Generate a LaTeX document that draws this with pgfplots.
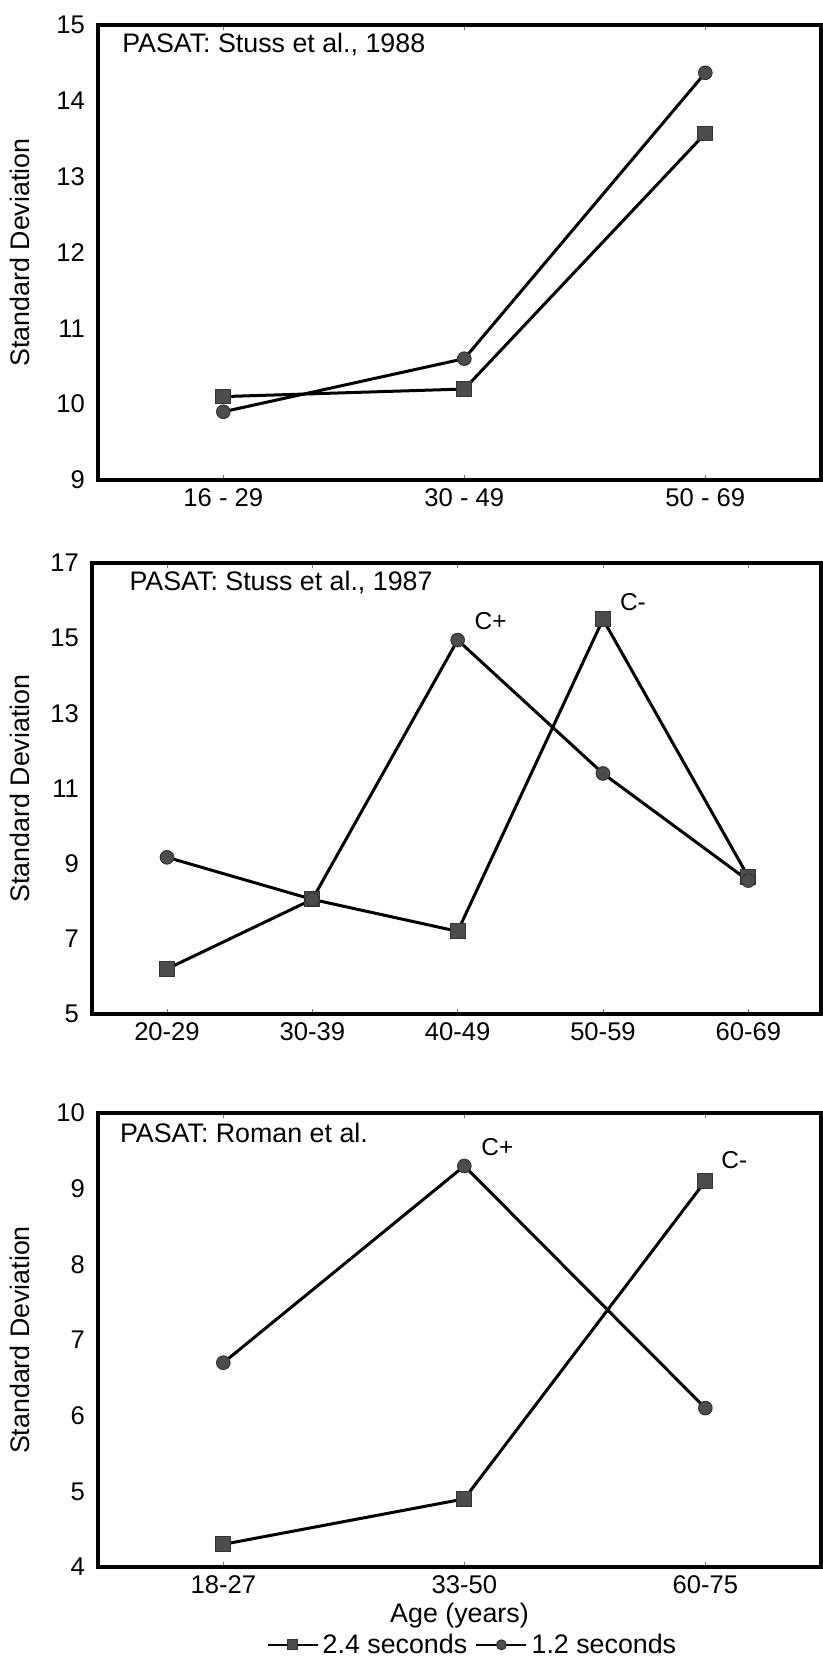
\documentclass[border=0pt]{standalone}
\usepackage{pgfplots}
\pgfplotsset{compat=1.18}
\usepackage{fontspec}
\setmainfont{Liberation Sans}

% series colours and marks
\definecolor{markfill}{gray}{0.30}

\pgfplotsset{
  panel/.style={
    scale only axis,
    anchor=north west,
    axis line style={line width=2pt, line join=miter},
    /pgf/number format/assume math mode=true,
    tick label style={font=\fontsize{12.8}{15}\selectfont},
    label style={font=\fontsize{13.4}{16}\selectfont},
    xtick=data,
    tick align=inside,
    major tick length=2.5pt,
    xtick style={line width=0.4pt, black!55},
    ytick style={draw=none},
    yticklabel style={xshift=-3pt},
    xticklabel style={yshift=-1pt},
    ylabel={Standard Deviation},
    clip=false,
  },
  sec24/.style={black, line width=1.5pt, mark=square*,
    mark size=3.7pt, mark options={fill=markfill, draw=black!80, line width=0.5pt}},
  sec12/.style={black, line width=1.5pt, mark=*,
    mark size=3.4pt, mark options={fill=markfill, draw=black!80, line width=0.5pt}},
}

\begin{document}
\begin{tikzpicture}
\useasboundingbox (0pt,0pt) rectangle (411.5pt,-831pt);

% ---------- Stuss et al., 1988 ----------
\begin{axis}[panel,
  at={(49pt,-12.5pt)}, width=361.5pt, height=227.5pt,
  xmin=-0.52, xmax=2.48, ymin=9, ymax=15,
  ytick={9,10,...,15},
  xticklabels={16 - 29, 30 - 49, 50 - 69},
  ylabel style={at={(axis description cs:-0.108,0.5)}, anchor=center},
]
\addplot[sec24] coordinates {(0,10.1) (1,10.2) (2,13.57)};
\addplot[sec12] coordinates {(0,9.9) (1,10.6) (2,14.37)};
\node[anchor=west, inner sep=0pt, font=\fontsize{13.4}{16}\selectfont]
  at (axis description cs:0.033,0.958) {PASAT: Stuss et al., 1988};
\end{axis}

% ---------- Stuss et al., 1987 ----------
\begin{axis}[panel,
  at={(46pt,-281.5pt)}, width=364.5pt, height=225.5pt,
  xmin=-0.516, xmax=4.5, ymin=5, ymax=17,
  ytick={5,7,...,17},
  xticklabels={20-29, 30-39, 40-49, 50-59, 60-69},
  ylabel style={at={(axis description cs:-0.099,0.5)}, anchor=center},
]
\addplot[sec24] coordinates {(0,6.2) (1,8.05) (2,7.2) (3,15.5) (4,8.65)};
\addplot[sec12] coordinates {(0,9.17) (1,8.05) (2,14.95) (3,11.4) (4,8.55)};
\node[font=\fontsize{12.2}{14}\selectfont, xshift=16.5pt, yshift=9.5pt]
  at (axis cs:2,14.95) {C+};
\node[font=\fontsize{12.2}{14}\selectfont, xshift=15pt, yshift=8.5pt]
  at (axis cs:3,15.5) {C-};
\node[anchor=west, inner sep=0pt, font=\fontsize{13.4}{16}\selectfont]
  at (axis description cs:0.051,0.957) {PASAT: Stuss et al., 1987};
\end{axis}

% ---------- Roman et al. ----------
\begin{axis}[panel,
  at={(49pt,-556.5pt)}, width=361.5pt, height=227pt,
  xmin=-0.52, xmax=2.48, ymin=4, ymax=10,
  ytick={4,5,...,10},
  xticklabels={18-27, 33-50, 60-75},
  ylabel style={at={(axis description cs:-0.108,0.5)}, anchor=center},
  xlabel={Age (years)},
  xlabel style={at={(axis description cs:0.5,-0.1233)}, anchor=base},
  legend columns=2,
  legend style={draw=none, fill=none, inner sep=0pt,
    at={(axis description cs:0.519,-0.137)}, anchor=north,
    font=\fontsize{13.4}{16}\selectfont,
    /tikz/every even column/.append style={column sep=2pt}},
  legend image code/.code={%
    \draw[mark repeat=2, mark phase=2, #1, line width=1.2pt, mark size=2.5pt]
      plot coordinates {(0pt,0pt) (12.5pt,0pt) (25pt,0pt)};},
]
\addplot[sec24] coordinates {(0,4.3) (1,4.9) (2,9.1)};
\addlegendentry{2.4 seconds}
\addplot[sec12] coordinates {(0,6.7) (1,9.3) (2,6.1)};
\addlegendentry{1.2 seconds}
\node[font=\fontsize{12.2}{14}\selectfont, xshift=16.5pt, yshift=9.5pt]
  at (axis cs:1,9.3) {C+};
\node[font=\fontsize{12.2}{14}\selectfont, xshift=14.5pt, yshift=10.5pt]
  at (axis cs:2,9.1) {C-};
\node[anchor=west, inner sep=0pt, font=\fontsize{13.4}{16}\selectfont]
  at (axis description cs:0.030,0.956) {PASAT: Roman et al.};
\end{axis}
\end{tikzpicture}
\end{document}
